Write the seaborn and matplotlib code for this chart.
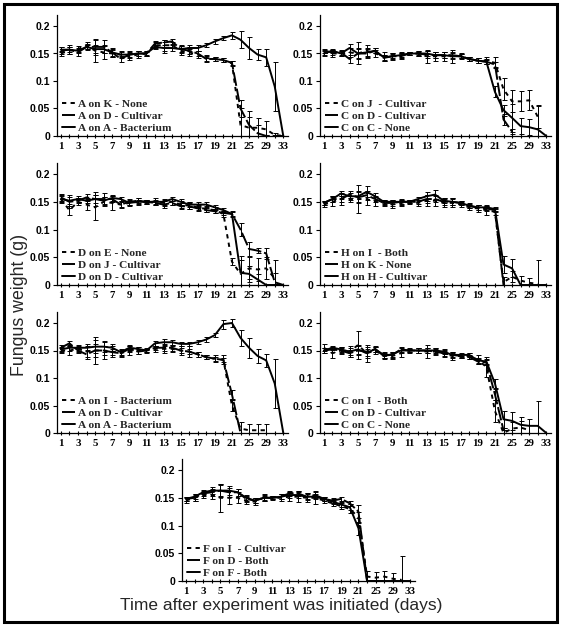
import numpy as np
import pandas as pd
import matplotlib
matplotlib.use("Agg")
import matplotlib.pyplot as plt
from matplotlib.patches import Rectangle
import seaborn as sns

nan = np.nan

# sampling days (the axis is categorical: daily up to 21, then every other day)
DAYS = list(range(1, 22)) + [23, 25, 27, 29, 31, 33]
TICK_DAYS = [1, 3, 5, 7, 9, 11, 13, 15, 17, 19, 21, 25, 29, 33]
Y_TICKS = [0, 0.05, 0.1, 0.15, 0.2]
Y_TICK_LABELS = ['0', '0.05', '0.1', '0.15', '0.2']

# ---- panel 1 ----
a_on_k = [0.150, 0.155, 0.158, 0.165, 0.155, 0.152, 0.150, 0.148, 0.145, 0.148, 0.150, 0.165, 0.165, 0.165, 0.155,
          0.152, 0.148, 0.142, 0.140, 0.138, 0.132, 0.020, 0.015, 0.015, 0.012, 0.002, 0.0]
a_on_k_err = [0.005, 0.006, 0.005, 0.006, 0.020, 0.012, 0.006, 0.005, 0.006, 0.006, 0.004, 0.005, 0.010, 0.005, 0.008,
              0.006, 0.006, 0.005, 0.004, 0.004, 0.005, 0.030, 0.020, 0.018, 0.015, 0.003, 0.0]
a_on_d = [0.155, 0.157, 0.152, 0.162, 0.162, 0.162, 0.152, 0.140, 0.148, 0.150, 0.150, 0.168, 0.170, 0.172, 0.158,
          0.155, 0.150, 0.140, 0.140, 0.138, 0.133, 0.050, 0.020, 0.005, 0.0, 0.0, 0.0]
a_on_d_err = [0.006, 0.008, 0.006, 0.006, 0.015, 0.012, 0.008, 0.006, 0.006, 0.005, 0.004, 0.004, 0.005, 0.004, 0.008,
              0.006, 0.005, 0.005, 0.004, 0.004, 0.004, 0.015, 0.025, 0.015, 0.0, 0.0, 0.0]
a_on_a = [0.157, 0.157, 0.155, 0.162, 0.158, 0.158, 0.152, 0.148, 0.148, 0.150, 0.150, 0.162, 0.160, 0.160, 0.158,
          0.160, 0.160, 0.165, 0.172, 0.178, 0.183, 0.175, 0.160, 0.148, 0.143, 0.090, 0.0]
a_on_a_err = [0.004, 0.005, 0.005, 0.004, 0.008, 0.008, 0.006, 0.006, 0.004, 0.004, 0.003, 0.004, 0.010, 0.005, 0.006,
              0.006, 0.005, 0.004, 0.004, 0.004, 0.006, 0.015, 0.020, 0.010, 0.015, 0.045, 0.0]

# ---- panel 2 ----
c_on_j = [0.152, 0.150, 0.150, 0.152, 0.150, 0.155, 0.150, 0.145, 0.145, 0.147, 0.150, 0.150, 0.145, 0.145, 0.145,
          0.145, 0.145, 0.140, 0.137, 0.137, 0.133, 0.085, 0.063, 0.063, 0.065, 0.035, nan]
c_on_j_err = [0.005, 0.006, 0.004, 0.008, 0.020, 0.010, 0.006, 0.008, 0.006, 0.006, 0.003, 0.004, 0.012, 0.008, 0.008,
              0.012, 0.005, 0.004, 0.005, 0.006, 0.010, 0.020, 0.020, 0.018, 0.018, 0.020, 0.0]
c_on_d = [0.155, 0.152, 0.152, 0.140, 0.150, 0.150, 0.155, 0.142, 0.145, 0.145, 0.150, 0.150, 0.148, 0.147, 0.147,
          0.147, 0.145, 0.140, 0.137, 0.135, 0.130, 0.030, 0.008, nan, nan, nan, nan]
c_on_d_err = [0.004, 0.005, 0.005, 0.008, 0.010, 0.008, 0.005, 0.005, 0.005, 0.005, 0.003, 0.004, 0.006, 0.005, 0.005,
              0.005, 0.004, 0.004, 0.004, 0.004, 0.005, 0.010, 0.005, 0.0, 0.0, 0.0, 0.0]
c_on_c = [0.150, 0.155, 0.150, 0.160, 0.150, 0.152, 0.155, 0.143, 0.145, 0.147, 0.150, 0.150, 0.150, 0.147, 0.147,
          0.145, 0.145, 0.140, 0.137, 0.135, 0.080, 0.047, 0.033, 0.018, 0.016, 0.012, 0.0]
c_on_c_err = [0.004, 0.004, 0.005, 0.008, 0.008, 0.008, 0.005, 0.004, 0.004, 0.004, 0.003, 0.003, 0.005, 0.005, 0.005,
              0.005, 0.004, 0.004, 0.004, 0.005, 0.010, 0.010, 0.025, 0.015, 0.015, 0.045, 0.0]

# ---- panel 3 ----
d_on_e = [0.155, 0.135, 0.150, 0.145, 0.140, 0.150, 0.148, 0.145, 0.148, 0.150, 0.150, 0.150, 0.148, 0.150, 0.145,
          0.143, 0.140, 0.137, 0.135, 0.128, 0.042, 0.020, 0.030, 0.028, 0.030, 0.012, nan]
d_on_e_err = [0.008, 0.008, 0.006, 0.010, 0.022, 0.008, 0.012, 0.006, 0.005, 0.006, 0.004, 0.006, 0.006, 0.005, 0.006,
              0.006, 0.005, 0.005, 0.005, 0.005, 0.006, 0.025, 0.020, 0.020, 0.020, 0.010, 0.0]
d_on_j = [0.158, 0.150, 0.152, 0.158, 0.155, 0.155, 0.155, 0.145, 0.150, 0.152, 0.150, 0.148, 0.145, 0.148, 0.142,
          0.142, 0.138, 0.135, 0.133, 0.130, 0.128, 0.100, 0.065, 0.062, 0.057, 0.005, 0.0]
d_on_j_err = [0.006, 0.012, 0.005, 0.006, 0.012, 0.010, 0.005, 0.005, 0.005, 0.005, 0.004, 0.004, 0.006, 0.004, 0.005,
              0.005, 0.004, 0.004, 0.004, 0.004, 0.005, 0.012, 0.012, 0.005, 0.010, 0.040, 0.0]
d_on_d = [0.155, 0.152, 0.155, 0.152, 0.155, 0.152, 0.157, 0.155, 0.148, 0.150, 0.150, 0.150, 0.150, 0.155, 0.150,
          0.145, 0.145, 0.145, 0.140, 0.135, 0.128, 0.022, 0.020, 0.010, 0.0, 0.0, 0.0]
d_on_d_err = [0.005, 0.006, 0.005, 0.005, 0.008, 0.006, 0.005, 0.004, 0.004, 0.004, 0.003, 0.004, 0.005, 0.004, 0.005,
              0.004, 0.004, 0.004, 0.004, 0.004, 0.004, 0.030, 0.015, 0.010, 0.0, 0.0, 0.0]

# ---- panel 4 ----
h_on_i = [0.145, 0.150, 0.155, 0.155, 0.155, 0.155, 0.150, 0.148, 0.145, 0.148, 0.150, 0.148, 0.152, 0.152, 0.148,
          0.148, 0.145, 0.140, 0.138, 0.135, 0.132, 0.005, 0.015, 0.008, 0.004, 0.002, nan]
h_on_i_err = [0.005, 0.008, 0.010, 0.006, 0.025, 0.010, 0.008, 0.005, 0.006, 0.006, 0.004, 0.005, 0.010, 0.010, 0.008,
              0.008, 0.005, 0.005, 0.006, 0.008, 0.005, 0.010, 0.010, 0.008, 0.008, 0.043, 0.0]
h_on_k = [0.148, 0.155, 0.155, 0.163, 0.158, 0.162, 0.155, 0.148, 0.148, 0.150, 0.150, 0.150, 0.155, 0.155, 0.150,
          0.150, 0.148, 0.142, 0.140, 0.138, 0.135, 0.0, nan, nan, nan, nan, nan]
h_on_k_err = [0.004, 0.006, 0.005, 0.006, 0.010, 0.008, 0.005, 0.004, 0.005, 0.004, 0.003, 0.004, 0.008, 0.006, 0.005,
              0.005, 0.004, 0.004, 0.004, 0.004, 0.004, 0.0, 0.0, 0.0, 0.0, 0.0, 0.0]
h_on_h = [0.148, 0.155, 0.165, 0.160, 0.160, 0.168, 0.160, 0.150, 0.150, 0.150, 0.150, 0.155, 0.160, 0.163, 0.152,
          0.150, 0.148, 0.143, 0.140, 0.140, 0.137, 0.037, 0.030, 0.0, 0.0, 0.0, 0.0]
h_on_h_err = [0.004, 0.005, 0.004, 0.006, 0.010, 0.010, 0.006, 0.004, 0.004, 0.005, 0.003, 0.004, 0.008, 0.008, 0.005,
              0.006, 0.004, 0.004, 0.004, 0.004, 0.004, 0.015, 0.016, 0.0, 0.0, 0.0, 0.0]

# ---- panel 5 ----
a_on_i = [0.150, 0.150, 0.153, 0.148, 0.150, 0.150, 0.148, 0.145, 0.150, 0.150, 0.150, 0.153, 0.153, 0.153, 0.150,
          0.148, 0.143, 0.138, 0.135, 0.133, 0.050, 0.008, 0.005, 0.005, 0.005, nan, nan]
a_on_i_err = [0.005, 0.008, 0.006, 0.010, 0.025, 0.015, 0.010, 0.006, 0.008, 0.006, 0.004, 0.006, 0.008, 0.006, 0.008,
              0.010, 0.004, 0.004, 0.006, 0.008, 0.010, 0.012, 0.012, 0.012, 0.012, 0.0, 0.0]
a_on_d2 = [0.155, 0.163, 0.150, 0.143, 0.150, 0.150, 0.147, 0.145, 0.153, 0.148, 0.150, 0.155, 0.155, 0.155, 0.150,
           0.148, 0.143, 0.138, 0.135, 0.133, 0.070, 0.0, nan, nan, nan, nan, nan]
a_on_d2_err = [0.005, 0.005, 0.005, 0.008, 0.012, 0.008, 0.006, 0.005, 0.005, 0.005, 0.003, 0.004, 0.005, 0.005, 0.005,
               0.005, 0.004, 0.004, 0.004, 0.004, 0.008, 0.0, 0.0, 0.0, 0.0, 0.0, 0.0]
a_on_a2 = [0.152, 0.155, 0.155, 0.155, 0.157, 0.157, 0.155, 0.147, 0.155, 0.153, 0.150, 0.163, 0.165, 0.165, 0.162,
           0.162, 0.165, 0.170, 0.178, 0.198, 0.200, 0.173, 0.155, 0.140, 0.132, 0.090, 0.0]
a_on_a2_err = [0.004, 0.005, 0.005, 0.006, 0.012, 0.010, 0.006, 0.005, 0.005, 0.004, 0.003, 0.004, 0.006, 0.005, 0.004,
               0.004, 0.004, 0.004, 0.004, 0.008, 0.008, 0.015, 0.018, 0.012, 0.012, 0.045, 0.0]

# ---- panel 6 ----
c_on_i = [0.155, 0.145, 0.150, 0.148, 0.160, 0.145, 0.150, 0.140, 0.140, 0.145, 0.150, 0.150, 0.148, 0.148, 0.145,
          0.140, 0.140, 0.140, 0.133, 0.120, 0.040, 0.0, 0.008, 0.010, 0.005, nan, nan]
c_on_i_err = [0.006, 0.008, 0.006, 0.010, 0.025, 0.015, 0.006, 0.006, 0.006, 0.006, 0.004, 0.005, 0.012, 0.006, 0.006,
              0.008, 0.004, 0.005, 0.008, 0.018, 0.020, 0.005, 0.012, 0.012, 0.010, 0.0, 0.0]
c_on_d2 = [0.150, 0.152, 0.150, 0.145, 0.150, 0.148, 0.152, 0.142, 0.142, 0.152, 0.150, 0.150, 0.150, 0.148, 0.145,
           0.142, 0.140, 0.138, 0.130, 0.128, 0.070, 0.005, nan, nan, nan, nan, nan]
c_on_d2_err = [0.005, 0.005, 0.005, 0.006, 0.008, 0.008, 0.005, 0.005, 0.005, 0.005, 0.003, 0.004, 0.005, 0.005, 0.005,
               0.005, 0.004, 0.004, 0.004, 0.005, 0.010, 0.005, 0.0, 0.0, 0.0, 0.0, 0.0]
c_on_c2 = [0.150, 0.155, 0.152, 0.148, 0.152, 0.145, 0.153, 0.140, 0.143, 0.150, 0.150, 0.150, 0.150, 0.150, 0.148,
           0.142, 0.142, 0.142, 0.132, 0.130, 0.090, 0.025, 0.022, 0.015, 0.013, 0.013, 0.0]
c_on_c2_err = [0.004, 0.004, 0.005, 0.006, 0.008, 0.008, 0.005, 0.004, 0.004, 0.004, 0.003, 0.004, 0.005, 0.004, 0.004,
               0.004, 0.004, 0.004, 0.005, 0.005, 0.008, 0.015, 0.017, 0.015, 0.013, 0.045, 0.0]

# ---- panel 7 ----
f_on_i = [0.145, 0.150, 0.155, 0.155, 0.150, 0.150, 0.150, 0.145, 0.143, 0.150, 0.150, 0.150, 0.152, 0.152, 0.150,
          0.150, 0.145, 0.140, 0.135, 0.130, 0.115, 0.008, 0.006, 0.008, 0.004, 0.002, nan]
f_on_i_err = [0.005, 0.006, 0.005, 0.008, 0.025, 0.012, 0.010, 0.006, 0.006, 0.006, 0.004, 0.006, 0.008, 0.010, 0.008,
              0.012, 0.005, 0.005, 0.005, 0.008, 0.010, 0.010, 0.010, 0.010, 0.010, 0.043, 0.0]
f_on_d = [0.148, 0.150, 0.158, 0.160, 0.163, 0.160, 0.160, 0.148, 0.145, 0.150, 0.150, 0.152, 0.158, 0.158, 0.152,
          0.155, 0.148, 0.145, 0.148, 0.140, 0.125, 0.0, nan, nan, nan, nan, nan]
f_on_d_err = [0.004, 0.005, 0.005, 0.006, 0.012, 0.008, 0.006, 0.005, 0.005, 0.005, 0.003, 0.004, 0.005, 0.005, 0.006,
              0.006, 0.004, 0.004, 0.004, 0.005, 0.012, 0.0, 0.0, 0.0, 0.0, 0.0, 0.0]
f_on_f = [0.148, 0.152, 0.160, 0.163, 0.163, 0.163, 0.160, 0.150, 0.145, 0.150, 0.150, 0.152, 0.155, 0.155, 0.152,
          0.152, 0.148, 0.143, 0.138, 0.133, 0.095, 0.0, 0.0, 0.0, 0.0, 0.0, 0.0]
f_on_f_err = [0.004, 0.005, 0.004, 0.006, 0.010, 0.008, 0.006, 0.005, 0.005, 0.004, 0.003, 0.004, 0.005, 0.005, 0.005,
              0.005, 0.004, 0.004, 0.004, 0.005, 0.012, 0.0, 0.0, 0.0, 0.0, 0.0, 0.0]

PANELS = [
    [('A on K - None', a_on_k, a_on_k_err), ('A on D - Cultivar', a_on_d, a_on_d_err),
     ('A on A - Bacterium', a_on_a, a_on_a_err)],
    [('C on J  - Cultivar', c_on_j, c_on_j_err), ('C on D - Cultivar', c_on_d, c_on_d_err),
     ('C on C - None', c_on_c, c_on_c_err)],
    [('D on E - None', d_on_e, d_on_e_err), ('D on J - Cultivar', d_on_j, d_on_j_err),
     ('D on D - Cultivar', d_on_d, d_on_d_err)],
    [('H on I  - Both', h_on_i, h_on_i_err), ('H on K - None', h_on_k, h_on_k_err),
     ('H on H - Cultivar', h_on_h, h_on_h_err)],
    [('A on I  - Bacterium', a_on_i, a_on_i_err), ('A on D - Cultivar', a_on_d2, a_on_d2_err),
     ('A on A - Bacterium', a_on_a2, a_on_a2_err)],
    [('C on I  - Both', c_on_i, c_on_i_err), ('C on D - Cultivar', c_on_d2, c_on_d2_err),
     ('C on C - None', c_on_c2, c_on_c2_err)],
    [('F on I  - Cultivar', f_on_i, f_on_i_err), ('F on D - Both', f_on_d, f_on_d_err),
     ('F on F - Both', f_on_f, f_on_f_err)],
]

LINESTYLES = [(0, (2.2, 2.2)), (0, (7, 1.5)), '-']

# axes rectangles in pixels: left, top, width, height (figure 563 x 628)
W, H = 563, 628
BOXES = [(57, 15, 231, 121), (320, 15, 231, 121),
         (57, 163, 231, 122), (320, 163, 231, 122),
         (57, 312, 231, 121), (320, 312, 231, 121),
         (182, 459, 233, 122)]

sns.set_style('ticks')
plt.rcParams['font.family'] = ['Liberation Sans', 'DejaVu Sans']

fig = plt.figure(figsize=(W / 100, H / 100), dpi=100)
positions = np.arange(len(DAYS))

for box, series in zip(BOXES, PANELS):
    left, top, wd, ht = box
    ax = fig.add_axes([left / W, 1 - (top + ht) / H, wd / W, ht / H])
    for (label, vals, errs), ls in zip(series, LINESTYLES):
        df = pd.DataFrame({'pos': positions, 'weight': vals, 'err': errs}).dropna()
        sns.lineplot(data=df, x='pos', y='weight', ax=ax, color='k', linewidth=1.4,
                     linestyle=ls, label=label, errorbar=None)
        eb = df[df['err'] > 0]
        ax.errorbar(eb['pos'], eb['weight'], yerr=eb['err'], fmt='none', ecolor='k',
                    elinewidth=0.7, capsize=1.8, capthick=0.7)
    ax.set_xlim(-0.45, 26.55)
    ax.set_ylim(0, 0.22)
    ax.set_xlabel('')
    ax.set_ylabel('')
    ax.set_xticks([DAYS.index(d) for d in TICK_DAYS])
    ax.set_xticklabels([str(d) for d in TICK_DAYS], fontfamily='Liberation Serif',
                       fontweight='bold', fontsize=7.8)
    ax.set_xticks(positions, minor=True)
    ax.set_yticks(Y_TICKS)
    ax.set_yticklabels(Y_TICK_LABELS, fontfamily='Liberation Sans', fontweight='bold', fontsize=7.5)
    ax.tick_params(axis='x', which='both', direction='inout', length=3, width=0.8, pad=3, colors='k')
    ax.tick_params(axis='y', direction='out', length=3, width=0.8, pad=2, colors='k')
    for side in ('top', 'right'):
        ax.spines[side].set_visible(False)
    for side in ('left', 'bottom'):
        ax.spines[side].set_linewidth(0.9)
        ax.spines[side].set_color('k')
    ax.legend(loc='lower left', bbox_to_anchor=(0.0, -0.01), frameon=False, handlelength=1.2,
              handletextpad=0.25, labelspacing=0.15, borderaxespad=0.0,
              prop={'family': 'Liberation Serif', 'weight': 'bold', 'size': 8.2})

fig.text(20 / W, 1 - 305 / H, 'Fungus weight (g)', rotation=90, ha='center', va='center', fontsize=12.8)
fig.text(0.5, 1 - 598 / H, 'Time after experiment was initiated (days)', ha='center', va='top',
         fontsize=12.5)
fig.add_artist(Rectangle((4 / W, 1 - 622 / H), 553 / W, 618 / H, transform=fig.transFigure,
                         fill=False, linewidth=2.2, edgecolor='k'))

fig.savefig('out.png', dpi=100)
